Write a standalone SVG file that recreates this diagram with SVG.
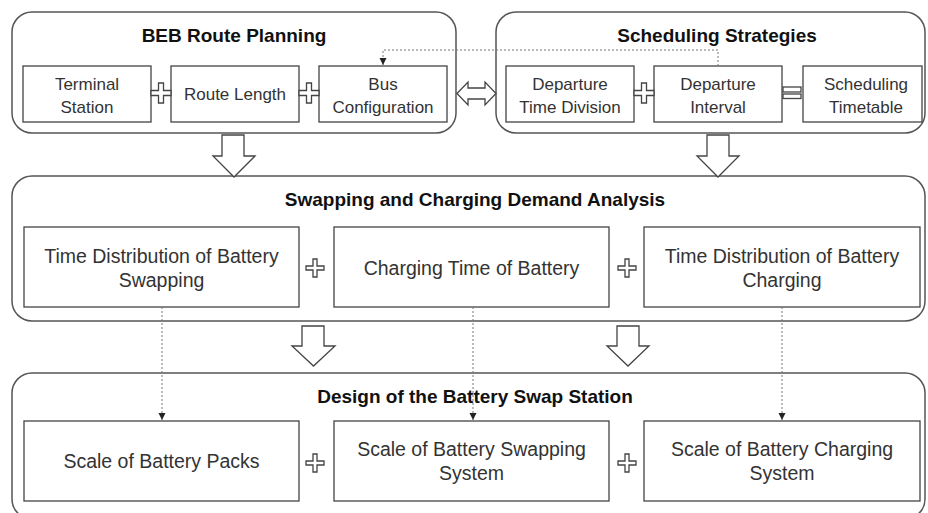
<svg xmlns="http://www.w3.org/2000/svg" width="928" height="513" viewBox="0 0 928 513">
<style>
.panel{fill:none;stroke:#555;stroke-width:1.5}
.box{fill:#fff;stroke:#444;stroke-width:1.3}
.title{font-family:"Liberation Sans",Arial,sans-serif;font-weight:bold;font-size:19px;fill:#111;text-anchor:middle}
.t17{font-family:"Liberation Sans",Arial,sans-serif;font-size:17px;fill:#333;text-anchor:middle}
.t20{font-family:"Liberation Sans",Arial,sans-serif;font-size:19.5px;fill:#333;text-anchor:middle}
.sym{fill:#fff;stroke:#444;stroke-width:1.3}
.big{fill:#fff;stroke:#444;stroke-width:1.3;stroke-linejoin:miter}
.dot{fill:none;stroke:#777;stroke-width:1;stroke-dasharray:2 2}
</style>
<defs>
<marker id="ah" markerWidth="8" markerHeight="8" refX="7" refY="4" orient="auto" markerUnits="userSpaceOnUse">
<path d="M0,0.5 L7,4 L0,7.5 Z" fill="#222"/>
</marker>
<path id="plusT" d="M-10,-2.5 H-2.5 V-10 H2.5 V-2.5 H10 V2.5 H2.5 V10 H-2.5 V2.5 H-10 Z"/>
<path id="plusS" d="M-9,-2 H-2 V-9 H2 V-2 H9 V2 H2 V9 H-2 V2 H-9 Z"/>
</defs>

<g id="route-planning">
<rect class="panel" x="12" y="12" width="444" height="121" rx="20"/>
<text class="title" x="234" y="42">BEB Route Planning</text>
</g>
<g id="terminal-station">
<rect class="box" x="23" y="66" width="128" height="56"/>
<text class="t17" x="87" y="90">Terminal</text>
<text class="t17" x="87" y="113">Station</text>
</g>
<g id="route-length">
<rect class="box" x="171" y="66" width="128" height="56"/>
<text class="t17" x="235" y="100">Route Length</text>
</g>
<g id="bus-configuration">
<rect class="box" x="319" y="66" width="128" height="56"/>
<text class="t17" x="383" y="90">Bus</text>
<text class="t17" x="383" y="113">Configuration</text>
</g>

<g id="scheduling-strategies">
<rect class="panel" x="496" y="12" width="429" height="121" rx="20"/>
<text class="title" x="717" y="42">Scheduling Strategies</text>
</g>
<g id="departure-time-division">
<rect class="box" x="506" y="66" width="128" height="56"/>
<text class="t17" x="570" y="90">Departure</text>
<text class="t17" x="570" y="113">Time Division</text>
</g>
<g id="departure-interval">
<rect class="box" x="654" y="66" width="128" height="56"/>
<text class="t17" x="718" y="90">Departure</text>
<text class="t17" x="718" y="113">Interval</text>
</g>
<g id="scheduling-timetable">
<rect class="box" x="803" y="66" width="119" height="56"/>
<text class="t17" x="866" y="90">Scheduling</text>
<text class="t17" x="866" y="113">Timetable</text>
</g>

<g id="demand-analysis">
<rect class="panel" x="12" y="176" width="913" height="145" rx="20"/>
<text class="title" x="475" y="206">Swapping and Charging Demand Analysis</text>
</g>
<g id="time-dist-swapping">
<rect class="box" x="24" y="227" width="275" height="80"/>
<text class="t20" x="161.5" y="263">Time Distribution of Battery</text>
<text class="t20" x="161.5" y="287">Swapping</text>
</g>
<g id="charging-time">
<rect class="box" x="334" y="227" width="275" height="80"/>
<text class="t20" x="471.5" y="275">Charging Time of Battery</text>
</g>
<g id="time-dist-charging">
<rect class="box" x="644" y="227" width="276" height="80"/>
<text class="t20" x="782" y="263">Time Distribution of Battery</text>
<text class="t20" x="782" y="287">Charging</text>
</g>

<g id="swap-station-design">
<rect class="panel" x="12" y="373" width="913" height="146" rx="20"/>
<text class="title" x="475" y="403">Design of the Battery Swap Station</text>
</g>
<g id="battery-packs">
<rect class="box" x="24" y="421" width="275" height="80"/>
<text class="t20" x="161.5" y="468">Scale of Battery Packs</text>
</g>
<g id="swapping-system">
<rect class="box" x="334" y="421" width="275" height="80"/>
<text class="t20" x="471.5" y="456">Scale of Battery Swapping</text>
<text class="t20" x="471.5" y="480">System</text>
</g>
<g id="charging-system">
<rect class="box" x="644" y="421" width="276" height="80"/>
<text class="t20" x="782" y="456">Scale of Battery Charging</text>
<text class="t20" x="782" y="480">System</text>
</g>

<g id="operators">
<use href="#plusT" class="sym" x="161" y="93"/>
<use href="#plusT" class="sym" x="309" y="93"/>
<use href="#plusT" class="sym" x="644" y="93"/>
<rect class="sym" x="783" y="87" width="18" height="5"/>
<rect class="sym" x="783" y="94" width="18" height="4.5"/>
<use href="#plusS" class="sym" x="315" y="268"/>
<use href="#plusS" class="sym" x="627" y="268"/>
<use href="#plusS" class="sym" x="315" y="463"/>
<use href="#plusS" class="sym" x="627" y="463"/>
</g>

<g id="connectors">
<path class="big" d="M457,93.5 L468,82 V88 H485 V82 L496,93.5 L485,105 V99 H468 V105 Z"/>
<path class="big" d="M222,135 H244 V156 H255 L234,177 L213,156 H222 Z"/>
<path class="big" d="M707,135 H729 V156 H739 L718,177 L697,156 H707 Z"/>
<path class="big" d="M302,326 H324 V346 H335 L313.5,366 L292,346 H302 Z"/>
<path class="big" d="M617,326 H639 V346 H649 L628,366 L607,346 H617 Z"/>
<path class="dot" d="M718,66 V50 H383 V65" marker-end="url(#ah)"/>
<path class="dot" d="M162,307 V420" marker-end="url(#ah)"/>
<path class="dot" d="M473,307 V420" marker-end="url(#ah)"/>
<path class="dot" d="M782,307 V420" marker-end="url(#ah)"/>
</g>
</svg>
